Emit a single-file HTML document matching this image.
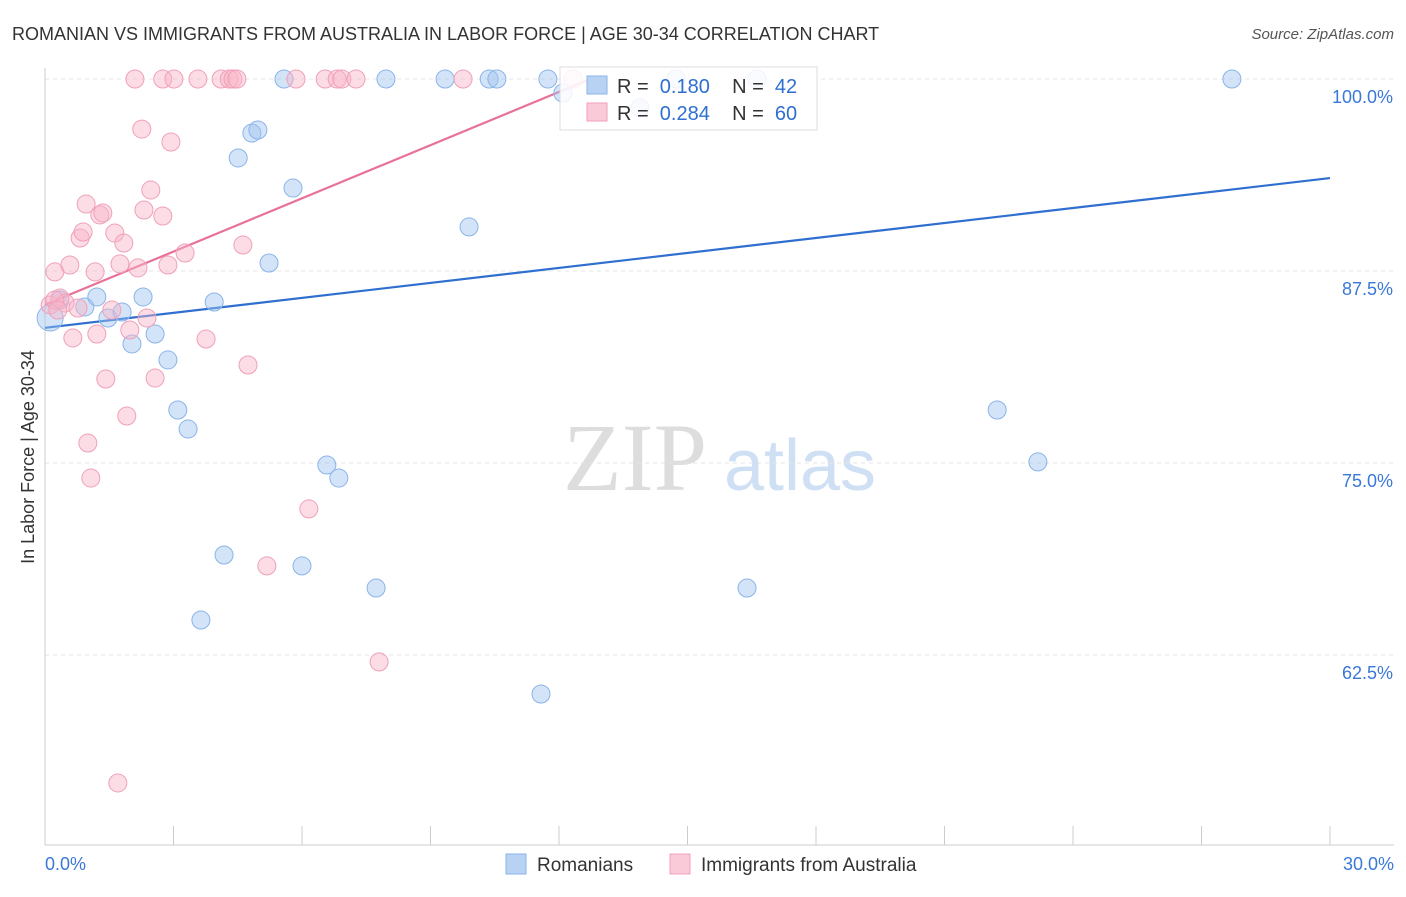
<!DOCTYPE html>
<html><head><meta charset="utf-8"><style>
body{margin:0;background:#fff;font-family:"Liberation Sans",sans-serif}
</style></head><body>
<svg id="c" width="1406" height="892" xmlns="http://www.w3.org/2000/svg">
<text x="12" y="40" font-size="18" fill="#333">ROMANIAN VS IMMIGRANTS FROM AUSTRALIA IN LABOR FORCE | AGE 30-34 CORRELATION CHART</text>
<text x="1394" y="39" font-size="15" fill="#555" font-style="italic" text-anchor="end">Source: ZipAtlas.com</text>
<text x="0" y="0" font-size="18" fill="#333" text-anchor="middle" transform="translate(34,457) rotate(-90)">In Labor Force | Age 30-34</text>
<g><text x="635" y="490" font-size="96" fill="#ddd" font-family="Liberation Serif,serif" text-anchor="middle">ZIP</text><text x="800" y="490" font-size="72" fill="#cfe0f4" text-anchor="middle">atlas</text></g>
<g id="grid"></g><g id="axes"></g><g id="lines"></g><g id="pts"></g>
<g>
<rect x="560" y="67" width="257" height="63" fill="#fff" fill-opacity="0.85" stroke="#ddd"/>
<rect x="587" y="76" width="20" height="18" fill="#b8d2f4" stroke="#8ab4e8"/>
<text x="617" y="93" font-size="20" fill="#333" xml:space="preserve">R =  <tspan fill="#2f6fd0">0.180</tspan>    N =  <tspan fill="#2f6fd0">42</tspan></text>
<rect x="587" y="103" width="20" height="18" fill="#fbcad8" stroke="#f0a0b8"/>
<text x="617" y="120" font-size="20" fill="#333" xml:space="preserve">R =  <tspan fill="#2f6fd0">0.284</tspan>    N =  <tspan fill="#2f6fd0">60</tspan></text>
</g>
<g>
<rect x="506" y="854" width="20" height="20" fill="#b8d2f4" stroke="#8ab4e8"/>
<text x="537" y="871" font-size="19" fill="#333">Romanians</text>
<rect x="670" y="854" width="20" height="20" fill="#fbcad8" stroke="#f0a0b8"/>
<text x="701" y="871" font-size="19" fill="#333">Immigrants from Australia</text>
</g>
</svg>
<script>
const blueX=[0.12,0.93,1.21,1.47,1.80,2.03,2.29,2.57,2.87,3.10,3.34,3.95,4.18,3.64,4.51,4.83,4.97,5.23,5.79,6.00,6.58,6.86,7.73,5.58,7.96,9.34,10.37,10.55,11.74,12.09,13.89,14.73,16.62,9.90,11.58,16.39,22.23,23.18,27.71,0.35];
const blueY=[84.44,85.16,85.81,84.44,84.83,82.75,85.81,83.40,81.71,78.45,77.21,85.48,69.01,64.78,94.86,96.48,96.68,88.02,92.90,68.30,74.87,74.02,66.86,100,100,100,100,100,100,99.09,98.11,100,100,90.37,59.96,66.86,78.45,75.07,100,85.61];
const pinkX=[0.12,0.23,0.35,0.47,0.58,0.65,0.77,0.82,0.89,0.96,1.00,1.07,1.17,1.21,1.28,1.35,1.42,1.56,1.63,1.70,1.75,1.84,1.91,1.98,2.10,2.17,2.26,2.31,2.38,2.47,2.57,2.75,2.75,2.87,2.94,3.01,3.27,3.57,3.76,4.11,4.30,4.39,4.48,4.62,4.74,5.18,5.86,6.16,6.54,6.82,6.93,7.26,7.80,9.76,12.33,0.23,0.30];
const pinkY=[85.29,87.44,85.74,85.42,87.89,83.14,85.09,89.65,90.04,91.86,76.30,74.02,87.44,83.40,91.15,91.28,80.47,84.96,89.97,54.17,87.96,89.32,78.06,83.66,100,87.70,96.74,91.47,84.44,92.77,80.53,100,91.08,87.89,95.90,100,88.67,100,83.07,100,100,100,100,89.19,81.38,68.30,100,72.01,100,100,100,100,62.05,100,100,85.61,84.96];
const blueLine=[83.8,93.55];
const pinkLine=[85.3,100];
const pinkEndX=12.73;
const yTicks=[100,87.5,75,62.5];
const yTickLabels=["100.0%","87.5%","75.0%","62.5%"];
const NS="http://www.w3.org/2000/svg";
const X=v=>45+v/30*1285, Y=v=>79+(100-v)/12.5*192;
function mk(t,a,p){const e=document.createElementNS(NS,t);for(const k in a)e.setAttribute(k,a[k]);document.getElementById(p).appendChild(e);return e;}
yTicks.forEach((t,i)=>{
 const g=mk('line',{x1:45,x2:1394,y1:Y(t),y2:Y(t),stroke:'#e4e4e4','stroke-dasharray':'4,4'},'grid');
 
 
 const l=mk('text',{x:1393,y:Y(t)+24,'font-size':18,fill:'#3a78d8','text-anchor':'end'},'axes');
 l.textContent=yTickLabels[i];
 
 
});
const ax=mk('line',{x1:45,x2:45,y1:68,y2:845,stroke:'#ccc'},'axes');


const bx=mk('line',{x1:45,x2:1394,y1:845,y2:845,stroke:'#ccc'},'axes');


for(let i=1;i<=10;i++){const t=mk('line',{x1:X(i*3),x2:X(i*3),y1:826,y2:845,stroke:'#ccc'},'axes');
 
 }
const xl=mk('text',{x:45,y:870,'font-size':18,fill:'#3a78d8'},'axes');xl.textContent='0.0%';


const xr=mk('text',{x:1394,y:870,'font-size':18,fill:'#3a78d8','text-anchor':'end'},'axes');xr.textContent='30.0%';


function dots(xs,ys,f,s,n){xs.forEach((x,i)=>{const c=mk('circle',{cx:X(x),cy:Y(ys[i]),r:i===0&&n==='romanian-point'?13:9,fill:f,stroke:s,'stroke-width':1},'pts');
 
 });}
dots(blueX,blueY,'rgba(160,196,240,0.45)','#8ab4e8','romanian-point');
dots(pinkX,pinkY,'rgba(248,180,200,0.45)','#f0a0b8','australia-point');
const bl=mk('line',{x1:X(0),y1:Y(blueLine[0]),x2:X(30),y2:Y(blueLine[1]),stroke:'#2f6fd0','stroke-width':2.2},'lines');


const pl=mk('line',{x1:X(0),y1:Y(pinkLine[0]),x2:X(pinkEndX),y2:Y(pinkLine[1]),stroke:'#e8719a','stroke-width':2.2},'lines');


</script>
</body></html>
